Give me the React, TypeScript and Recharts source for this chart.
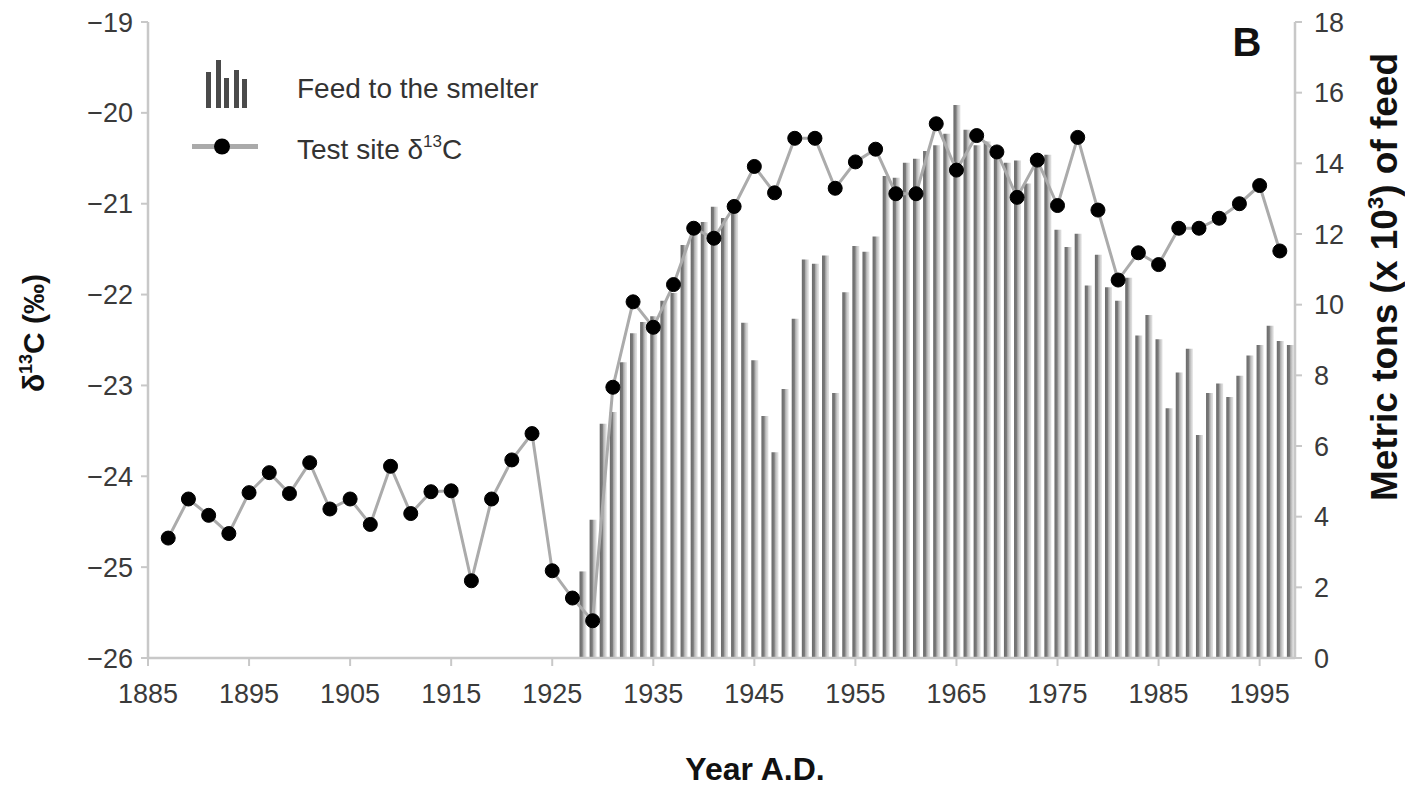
import { ComposedChart, Bar, Line, XAxis, YAxis } from "recharts";

const FONT = '"Liberation Sans", Arial, sans-serif';

// bars: smelter feed, metric tons x 10^3 (right axis)
const feedYears = [
  1928, 1929, 1930, 1931, 1932, 1933, 1934, 1935, 1936, 1937, 1938, 1939, 1940, 1941, 1942, 1943,
  1944, 1945, 1946, 1947, 1948, 1949, 1950, 1951, 1952, 1953, 1954, 1955, 1956, 1957, 1958, 1959,
  1960, 1961, 1962, 1963, 1964, 1965, 1966, 1967, 1968, 1969, 1970, 1971, 1972, 1973, 1974, 1975,
  1976, 1977, 1978, 1979, 1980, 1981, 1982, 1983, 1984, 1985, 1986, 1987, 1988, 1989, 1990, 1991,
  1992, 1993, 1994, 1995, 1996, 1997, 1998,
];
const feedTons = [
  2.45, 3.91, 6.63, 6.96, 8.37, 9.19, 9.51, 9.67, 10.11, 10.33, 11.69, 12.34, 12.34, 12.77, 12.45, 12.66,
  9.49, 8.43, 6.85, 5.82, 7.61, 9.6, 11.28, 11.16, 11.39, 7.5, 10.35, 11.66, 11.5, 11.93, 13.64, 13.59,
  14.02, 14.13, 14.35, 14.51, 14.84, 15.65, 14.95, 14.51, 14.62, 14.4, 14.02, 14.08, 13.43, 14.02, 14.24, 12.12,
  11.63, 12.01, 10.54, 11.41, 10.49, 10.11, 10.76, 9.13, 9.71, 9.02, 7.07, 8.08, 8.75, 6.31, 7.5, 7.77,
  7.39, 7.99, 8.56, 8.86, 9.4, 8.97, 8.86,
];

// line: test site d13C (left axis)
const isoYears = [
  1887, 1889, 1891, 1893, 1895, 1897, 1899, 1901, 1903, 1905, 1907, 1909, 1911, 1913, 1915, 1917,
  1919, 1921, 1923, 1925, 1927, 1929, 1931, 1933, 1935, 1937, 1939, 1941, 1943, 1945, 1947, 1949,
  1951, 1953, 1955, 1957, 1959, 1961, 1963, 1965, 1967, 1969, 1971, 1973, 1975, 1977, 1979, 1981,
  1983, 1985, 1987, 1989, 1991, 1993, 1995, 1997,
];
const isoValues = [
  -24.68, -24.25, -24.43, -24.63, -24.18, -23.96, -24.19, -23.85, -24.36, -24.25, -24.53, -23.89, -24.41, -24.17, -24.16, -25.15,
  -24.25, -23.82, -23.53, -25.04, -25.34, -25.59, -23.02, -22.08, -22.36, -21.89, -21.27, -21.38, -21.03, -20.59, -20.88, -20.28,
  -20.28, -20.83, -20.54, -20.4, -20.89, -20.89, -20.12, -20.63, -20.25, -20.43, -20.93, -20.52, -21.02, -20.27, -21.07, -21.84,
  -21.54, -21.67, -21.27, -21.27, -21.16, -21.0, -20.8, -21.52,
];

const yearTicks = [1885, 1895, 1905, 1915, 1925, 1935, 1945, 1955, 1965, 1975, 1985, 1995];
const isoTicks = [-26, -25, -24, -23, -22, -21, -20, -19];
const tonTicks = [0, 2, 4, 6, 8, 10, 12, 14, 16, 18];

const allYears = Array.from(new Set([...feedYears, ...isoYears])).sort((a, b) => a - b);
const data = allYears.map((y) => {
  const fi = feedYears.indexOf(y);
  const ii = isoYears.indexOf(y);
  return {
    year: y,
    feed: fi >= 0 ? feedTons[fi] : null,
    d13c: ii >= 0 ? isoValues[ii] : null,
  };
});

const axisGrey = "#c8c8c8";
const tickStyle = { fontSize: 27, fill: "#3a3a3a", fontFamily: FONT };

const fmtMinus = (v: number) => (v < 0 ? `\u2212${Math.abs(v)}` : `${v}`);

export default function App() {
  return (
    <div style={{ position: "absolute", left: 0, top: 0, width: 1405, height: 786, background: "#fff" }}>
      <svg width={0} height={0} style={{ position: "absolute" }}>
        <defs>
          <linearGradient id="feedGrad" x1="0" y1="0" x2="1" y2="0">
            <stop offset="0%" stopColor="#6a6a6a" />
            <stop offset="38%" stopColor="#7c7c7c" />
            <stop offset="52%" stopColor="#ababab" />
            <stop offset="78%" stopColor="#d2d2d2" />
            <stop offset="100%" stopColor="#e4e4e4" />
          </linearGradient>
        </defs>
      </svg>
      <ComposedChart width={1405} height={786} data={data} margin={{ top: 22, right: 0, bottom: 0, left: 0 }}>
        <XAxis
          dataKey="year"
          type="number"
          domain={[1885, 1998.5]}
          ticks={yearTicks}
          allowDataOverflow
          height={128}
          tick={tickStyle}
          tickSize={8}
          tickMargin={18}
          axisLine={{ stroke: axisGrey, strokeWidth: 2.5 }}
          tickLine={{ stroke: axisGrey, strokeWidth: 2 }}
        />
        <YAxis
          yAxisId="left"
          domain={[-26, -19]}
          ticks={isoTicks}
          width={148}
          tick={tickStyle}
          tickFormatter={fmtMinus}
          tickSize={7}
          tickMargin={8}
          axisLine={{ stroke: axisGrey, strokeWidth: 2.5 }}
          tickLine={{ stroke: axisGrey, strokeWidth: 2 }}
        />
        <YAxis
          yAxisId="right"
          orientation="right"
          domain={[0, 18]}
          ticks={tonTicks}
          width={110}
          tick={tickStyle}
          tickSize={7}
          tickMargin={12}
          axisLine={{ stroke: axisGrey, strokeWidth: 2.5 }}
          tickLine={{ stroke: axisGrey, strokeWidth: 2 }}
        />
        <Bar yAxisId="right" dataKey="feed" barSize={7} fill="url(#feedGrad)" isAnimationActive={false} />
        <Line
          yAxisId="left"
          dataKey="d13c"
          type="linear"
          stroke="#ababab"
          strokeWidth={3}
          connectNulls
          dot={{ r: 7, fill: "#000", stroke: "#000", strokeWidth: 1 }}
          activeDot={false}
          isAnimationActive={false}
        />
      </ComposedChart>

      <svg
        width={1405}
        height={786}
        style={{ position: "absolute", left: 0, top: 0, pointerEvents: "none" }}
        fontFamily={FONT}
      >
        {/* legend */}
        <g fill="#4a4a4a">
          <rect x={206} y={72} width={5} height={36} />
          <rect x={216} y={60} width={5} height={48} />
          <rect x={224} y={78} width={5} height={30} />
          <rect x={234} y={70} width={5} height={38} />
          <rect x={242} y={79} width={5} height={29} />
        </g>
        <text x={297} y={98} fontSize={28} fill="#333">Feed to the smelter</text>
        <line x1={192} y1={146.5} x2={258} y2={146.5} stroke="#aaaaaa" strokeWidth={5} />
        <circle cx={222} cy={146.5} r={8} fill="#000" />
        <text x={297} y={159} fontSize={28} fill="#333">
          Test site δ<tspan dy={-12} fontSize={17}>13</tspan>
          <tspan dy={12}>C</tspan>
        </text>

        {/* panel letter */}
        <text x={1247} y={56} fontSize={40} fontWeight="bold" textAnchor="middle" fill="#111">B</text>

        {/* axis titles */}
        <text x={755} y={780} fontSize={32} fontWeight="bold" textAnchor="middle" fill="#111">Year A.D.</text>
        <text transform="translate(44,333) rotate(-90)" fontSize={30} fontWeight="bold" textAnchor="middle" fill="#111">
          δ<tspan dy={-12} fontSize={18}>13</tspan>
          <tspan dy={12}>C (‰)</tspan>
        </text>
        <text transform="translate(1397,277) rotate(-90)" fontSize={37} fontWeight="bold" textAnchor="middle" fill="#111">
          Metric tons (x 10<tspan dy={-14} fontSize={22}>3</tspan>
          <tspan dy={14}>) of feed</tspan>
        </text>
      </svg>
    </div>
  );
}
